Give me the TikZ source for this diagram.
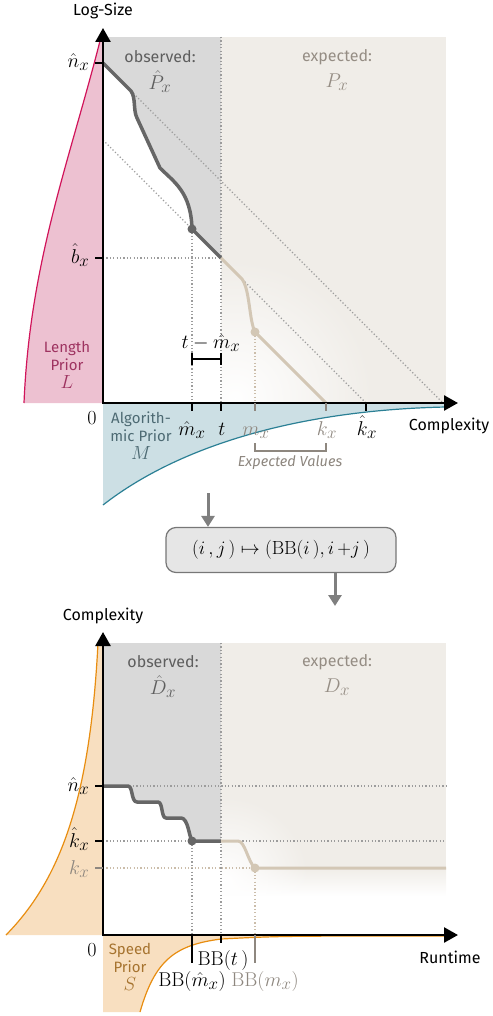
\documentclass[tikz,border=0pt]{standalone}
\usepackage{fix-cm}
\usepackage{fontspec}
\setsansfont{Fira Sans}
\usepackage{amsmath}
\usetikzlibrary{arrows.meta, fadings}
\DeclareMathSizes{20}{20}{17}{13}
\DeclareMathSizes{19}{19}{15}{11}
\definecolor{obsFill}{HTML}{D9D9D9}
\definecolor{expFill}{HTML}{F0EDE8}
\definecolor{obsCurve}{HTML}{666666}
\definecolor{expCurve}{HTML}{D3C7B5}
\definecolor{obsText}{HTML}{5E5E5E}
\definecolor{expText}{HTML}{958D84}
\definecolor{expLabel}{HTML}{8E877F}
\definecolor{guideGray}{HTML}{9C9C9C}
\definecolor{guideBeige}{HTML}{CBBDAA}
\definecolor{lenFill}{HTML}{EDC1D1}
\definecolor{lenLine}{HTML}{D1145A}
\definecolor{lenText}{HTML}{9E3360}
\definecolor{algFill}{HTML}{CCDFE4}
\definecolor{algLine}{HTML}{2B8095}
\definecolor{algText}{HTML}{4D6A73}
\definecolor{spdFill}{HTML}{F8DFC0}
\definecolor{spdLine}{HTML}{E88D10}
\definecolor{spdText}{HTML}{A6732F}
\definecolor{mapFill}{HTML}{E6E6E6}
\definecolor{mapLine}{HTML}{777777}
\definecolor{flowGray}{HTML}{7F7F7F}
\tikzfading[name=glowfade, inner color=transparent!0, outer color=transparent!100]

\begin{document}
\begin{tikzpicture}[x=1pt, y=-1pt,
    sflabel/.style={font=\sffamily\fontsize{16}{18}\selectfont},
    priorlabel/.style={font=\sffamily\fontsize{15}{18}\selectfont, align=center},
    mlabel/.style={font=\fontsize{20}{22}\selectfont, inner sep=0.5pt},
    axis/.style={line width=2.5pt, line join=miter, {Triangle[width=15pt,length=14pt]}-{Triangle[width=15pt,length=14pt]}},
    tickmark/.style={line width=2.5pt},
    guide/.style={guideGray, line width=1.2pt, dash pattern=on 1.2pt off 2.2pt},
    guideB/.style={guideBeige, line width=1.2pt, dash pattern=on 1.2pt off 2.2pt},
    obsline/.style={obsCurve, line width=3.5pt, line join=round},
    expline/.style={expCurve, line width=3pt, line join=round},
    priorline/.style={line width=1.2pt},
    mapbox/.style={draw=mapLine, fill=mapFill, rounded corners=10pt, line width=1.2pt,
        minimum width=230pt, minimum height=45pt, font=\fontsize{19}{21}\selectfont},
    flow/.style={flowGray, line width=3pt, -{Triangle[width=13pt,length=11pt]}}]
    \useasboundingbox (0,0) rectangle (492,1016);

    \fill[obsFill] (103,37) rectangle (221,403);
    \fill[expFill] (221,37) rectangle (446,403);
    \begin{scope}
        \clip (221,37) rectangle (446,403);
        \fill[white, path fading=glowfade] (235,398) circle[radius=140pt];
    \end{scope}
    \fill[white] (103,63) -- (131,91) .. controls (136,98) and (133,110) .. (137,118) -- (160,168)
        .. controls (174,182) and (191,192) .. (192,229) -- (221,258) -- (221,403) -- (103,403) -- cycle;
    \fill[lenFill] (103,37) -- (101,37) .. controls (70,160) and (30,260) .. (24,403) -- (103,403) -- cycle;
    \draw[priorline, lenLine] (101,37) .. controls (70,160) and (30,260) .. (24,403);
    \fill[algFill] (103,403) -- (103,505) .. controls (180,445) and (300,410) .. (446,407) -- (446,403) -- cycle;
    \draw[priorline, algLine] (103,505) .. controls (180,445) and (300,410) .. (446,407);

    \draw[guide] (131,91) -- (443,403);
    \draw[guide] (103,140) -- (366,403);
    \draw[guide] (221,37) -- (221,403);
    \draw[guide] (192,229) -- (192,403);
    \draw[guide] (103,258) -- (221,258);
    \draw[guideB] (255,332) -- (255,403);

    \draw[obsline] (103,63) -- (131,91) .. controls (136,98) and (133,110) .. (137,118) -- (160,168)
        .. controls (174,182) and (191,192) .. (192,229) -- (221,258);
    \fill[obsCurve] (192,229) circle[radius=4.5pt];
    \draw[expline] (221,258) -- (242,279) .. controls (250,290) and (249,320) .. (255,332) -- (326,403);
    \fill[expCurve] (255,332) circle[radius=4.5pt];

    \draw[axis] (103,28) -- (103,403) -- (458,403);
    \draw[tickmark] (95,63) -- (103,63);
    \draw[tickmark] (95,258) -- (103,258);
    \draw[tickmark] (192,403) -- (192,411);
    \draw[tickmark] (221,403) -- (221,411);
    \draw[tickmark, expLabel] (255,403) -- (255,411);
    \draw[tickmark, expLabel] (326,403) -- (326,411);
    \draw[tickmark] (366,403) -- (366,411);
    \draw[line width=2.2pt] (192,353) -- (192,365) (192,359) -- (221,359) (221,353) -- (221,365);
    \draw[expLabel, line width=1.2pt] (255,443) -- (255,451) -- (326,451) -- (326,443);

    \node[sflabel] (logsize) at (103,11) {Log-Size};
    \node[sflabel] (cplxA) at (449,426) {Complexity};
    \node[sflabel, obsText] (obsA) at (160,57) {observed:};
    \node[mlabel, obsText] (obsPA) at (160,82) {$\hat{P}_x$};
    \node[sflabel, expText] (expA) at (337,57) {expected:};
    \node[mlabel, expText] (expPA) at (337,82) {$P_x$};
    \node[mlabel, anchor=base east] (nhatA) at (90,68) {$\hat{n}_x$};
    \node[mlabel, anchor=base east] (bhatA) at (90,263) {$\hat{b}_x$};
    \node[mlabel] (zeroA) at (92,418) {$0$};
    \node[mlabel, anchor=base] (mhatA) at (192,435) {$\hat{m}_x$};
    \node[mlabel, anchor=base] (tA) at (222,435) {$t$};
    \node[mlabel, anchor=base, expLabel] (mA) at (256,435) {$m_x$};
    \node[mlabel, anchor=base, expLabel] (kA) at (327,435) {$k_x$};
    \node[mlabel, anchor=base] (khatA) at (367,435) {$\hat{k}_x$};
    \node[mlabel, anchor=base] (gap) at (211,348) {$t-\hat{m}_x$};
    \node[expLabel, font=\sffamily\itshape\fontsize{14.5}{16}\selectfont] (expvals) at (290,463) {Expected Values};
    \node[priorlabel, lenText] (lenprior) at (67,365) {Length\\Prior\\{\fontsize{19}{18}\selectfont$L$}};
    \node[priorlabel, algText] (algprior) at (141,436) {Algorith-\\mic Prior\\{\fontsize{19}{18}\selectfont$M$}};

    \coordinate (flowin) at (208,493);
    \node[mapbox] (map) at (281,550) {$(i\,,j\,)\mapsto(\mathrm{BB}(i\,),i\,{+}j\,)$};
    \coordinate (flowout) at (335,606);
    \draw[flow] (flowin) -- (flowin |- map.north);
    \draw[flow] (map.south -| flowout) -- (flowout);

    \fill[obsFill] (103,643) rectangle (221,935);
    \fill[expFill] (221,643) rectangle (446,868);
    \shade[top color=expFill, bottom color=white] (221,868) rectangle (446,896);
    \begin{scope}
        \clip (221,643) rectangle (446,935);
        \fill[white, path fading=glowfade] (225,880) circle[radius=85pt];
    \end{scope}
    \fill[white] (103,786) -- (128,786) .. controls (133,786) and (131,802) .. (137,802) -- (158,802)
        .. controls (163,802) and (161,818) .. (166,818) -- (181,818) .. controls (188,818) and (189,836) .. (192,841)
        -- (221,841) -- (221,935) -- (103,935) -- cycle;
    \fill[spdFill] (103,643) -- (98,643) .. controls (90,800) and (60,880) .. (6,935) -- (103,935) -- cycle;
    \draw[priorline, spdLine] (98,643) .. controls (90,800) and (60,880) .. (6,935);
    \fill[spdFill] (103,935) -- (103,1012) -- (140,1012) .. controls (155,960) and (175,945) .. (221,939)
        .. controls (280,936) .. (446,936) -- (446,935) -- cycle;
    \draw[priorline, spdLine] (140,1012) .. controls (155,960) and (175,945) .. (221,939) .. controls (280,936) .. (446,936);

    \draw[guide] (133,786) -- (446,786);
    \draw[guide] (103,841) -- (446,841);
    \draw[guideB] (103,868) -- (255,868);
    \draw[guide] (221,643) -- (221,935);
    \draw[guide] (192,841) -- (192,935);
    \draw[guideB] (255,868) -- (255,935);

    \draw[obsline] (103,786) -- (128,786) .. controls (133,786) and (131,802) .. (137,802) -- (158,802)
        .. controls (163,802) and (161,818) .. (166,818) -- (181,818) .. controls (188,818) and (189,836) .. (192,841)
        -- (221,841);
    \fill[obsCurve] (192,841) circle[radius=4.5pt];
    \draw[expline] (221,841) -- (238,841) .. controls (245,841) and (248,862) .. (255,868) -- (446,868);
    \fill[expCurve] (255,868) circle[radius=4.5pt];

    \draw[axis] (103,632) -- (103,935) -- (458,935);
    \draw[tickmark] (95,786) -- (103,786);
    \draw[tickmark] (95,841) -- (103,841);
    \draw[tickmark, expLabel] (95,868) -- (103,868);
    \draw[tickmark] (192,935) -- (192,963);
    \draw[tickmark] (221,935) -- (221,943);
    \draw[tickmark, expLabel] (255,935) -- (255,963);

    \node[sflabel] (cplxB) at (103,616) {Complexity};
    \node[sflabel] (runtime) at (450,957) {Runtime};
    \node[sflabel, obsText] (obsB) at (163,662) {observed:};
    \node[mlabel, obsText] (obsDB) at (163,687) {$\hat{D}_x$};
    \node[sflabel, expText] (expB) at (337,662) {expected:};
    \node[mlabel, expText] (expDB) at (337,687) {$D_x$};
    \node[mlabel, anchor=base east] (nhatB) at (90,791) {$\hat{n}_x$};
    \node[mlabel, anchor=base east] (khatB) at (90,847) {$\hat{k}_x$};
    \node[mlabel, anchor=base east, expLabel] (kB) at (90,874) {$k_x$};
    \node[mlabel] (zeroB) at (92,950) {$0$};
    \node[mlabel, anchor=base] (bbt) at (223,965) {$\mathrm{BB}(t\,)$};
    \node[mlabel, anchor=base] (bbmhat) at (192,986) {$\mathrm{BB}(\hat{m}_x)$};
    \node[mlabel, anchor=base, expLabel] (bbm) at (265,986) {$\mathrm{BB}(m_x)$};
    \node[priorlabel, spdText] (spdprior) at (130,967) {Speed\\Prior\\{\fontsize{19}{18}\selectfont$S$}};
\end{tikzpicture}
\end{document}
